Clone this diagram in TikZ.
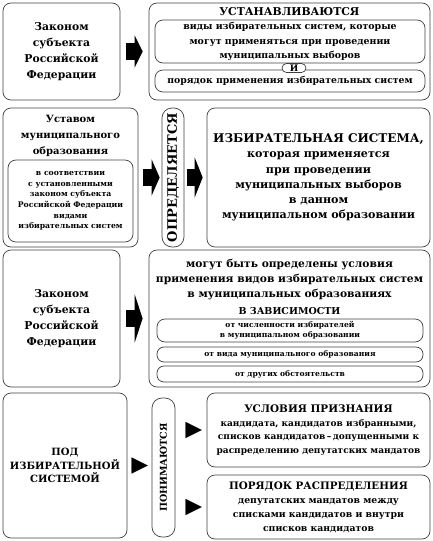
\documentclass[tikz,border=0pt]{standalone}
\usepackage{fontspec}
\setmainfont{DejaVu Serif}
\usetikzlibrary{arrows.meta}

\begin{document}
\begin{tikzpicture}[x=1pt,y=-1pt,
  box/.style={draw=black!75,line width=0.7pt,rounded corners=8pt,inner sep=0pt,align=center},
  pill/.style={draw=black!75,line width=0.7pt,rounded corners=7pt,inner sep=0pt,align=center},
  txt/.style={align=center,inner sep=0pt},
  blockarr/.style={line width=17pt,-{Triangle[length=8pt,width=#1]}},
  tri/.style={line width=0.1pt,-{Triangle[length=16pt,width=16pt]}}]
\useasboundingbox (0,0) rectangle (433,541);
% upper block
\node[box,minimum width=117pt,minimum height=97pt,font=\fontsize{10.8}{16}\selectfont\bfseries] (law1) at (61.5,51.5) {Законом\\субъекта\\Российской\\Федерации};
\node[box,minimum width=281pt,minimum height=97pt] (set1) at (289.5,51.5) {};
\node[txt,font=\fontsize{10.8}{13}\selectfont\bfseries] (set1title) at (289.5,12) {УСТАНАВЛИВАЮТСЯ};
\node[box,minimum width=270pt,minimum height=43pt,font=\fontsize{9.4}{14.5}\selectfont\bfseries] (kinds) at (290,41.5) {виды избирательных систем, которые\\могут применяться при проведении\\муниципальных выборов};
\node[box,minimum width=270pt,minimum height=22pt,font=\fontsize{9.3}{14.5}\selectfont\bfseries] (order) at (290,81) {порядок применения избирательных систем};
\node[pill,fill=white,minimum width=24pt,minimum height=9pt,rounded corners=4.5pt,font=\fontsize{9}{9}\selectfont\bfseries] (and) at (294,68) {И};
\draw[blockarr=32pt,shorten <=6pt,shorten >=6pt] (law1) -- (set1);
% second block
\node[box,minimum width=135pt,minimum height=139pt] (charter) at (70.5,177.5) {};
\node[txt,font=\fontsize{10}{16}\selectfont\bfseries] (chartertitle) at (70.5,136) {Уставом\\муниципального\\образования};
\node[box,minimum width=125pt,minimum height=82pt,font=\fontsize{7.7}{10.6}\selectfont\bfseries] (accord) at (70.5,201) {в соответствии\\с установленными\\законом субъекта\\Российской Федерации\\видами\\избирательных систем};
\node[pill,minimum width=22pt,minimum height=139pt,rounded corners=10pt,font=\fontsize{13}{13}\selectfont\bfseries] (defined) at (173,177.5) {\rotatebox{90}{ОПРЕДЕЛЯЕТСЯ}};
\node[box,minimum width=223pt,minimum height=139pt,font=\fontsize{11.1}{15.3}\selectfont\bfseries] (system) at (318.5,177.5) {{\fontsize{12}{15.3}\selectfont ИЗБИРАТЕЛЬНАЯ СИСТЕМА,}\\которая применяется\\при проведении\\муниципальных выборов\\в данном\\муниципальном образовании};
\draw[blockarr=36pt,shorten <=5pt,shorten >=2pt] (charter) -- (defined);
\draw[blockarr=40pt,shorten <=3pt,shorten >=4pt] (defined) -- (system);
% third block
\node[box,minimum width=117pt,minimum height=137pt,font=\fontsize{10.8}{16}\selectfont\bfseries] (law2) at (61.5,318.5) {Законом\\субъекта\\Российской\\Федерации};
\node[box,minimum width=281pt,minimum height=137pt] (apply) at (289.5,318.5) {};
\node[txt,font=\fontsize{10.7}{15}\selectfont\bfseries] (applytext) at (289.5,280) {могут быть определены условия\\применения видов избирательных систем\\в муниципальных образованиях};
\node[txt,font=\fontsize{9.5}{13}\selectfont\bfseries] (depend) at (289.5,311) {В ЗАВИСИМОСТИ};
\node[pill,minimum width=266pt,minimum height=23pt,rounded corners=8pt,font=\fontsize{7.6}{10}\selectfont\bfseries] (dep1) at (290,330.5) {от численности избирателей\\в муниципальном образовании};
\node[pill,minimum width=266pt,minimum height=15pt,font=\fontsize{7.6}{10}\selectfont\bfseries] (dep2) at (290,354.5) {от вида муниципального образования};
\node[pill,minimum width=266pt,minimum height=16pt,font=\fontsize{7.6}{10}\selectfont\bfseries] (dep3) at (290,374) {от других обстоятельств};
\draw[blockarr=48pt,shorten <=6pt,shorten >=6pt] (law2) -- (apply);
% lower block
\node[box,minimum width=124pt,minimum height=145pt,font=\fontsize{10}{13.5}\selectfont\bfseries] (under) at (65,465.5) {ПОД\\ИЗБИРАТЕЛЬНОЙ\\СИСТЕМОЙ};
\node[pill,minimum width=23pt,minimum height=139pt,rounded corners=10pt,font=\fontsize{9.5}{9.5}\selectfont\bfseries] (meant) at (163.5,467.5) {\rotatebox{90}{ПОНИМАЮТСЯ}};
\node[box,minimum width=223pt,minimum height=74pt,font=\fontsize{9}{13.5}\selectfont\bfseries] (recog) at (318.5,430) {{\fontsize{10.4}{14}\selectfont УСЛОВИЯ ПРИЗНАНИЯ}\\кандидата, кандидатов избранными,\\списков кандидатов\,–\,допущенными к\\распределению депутатских мандатов};
\node[box,minimum width=223pt,minimum height=64pt,font=\fontsize{9.3}{14}\selectfont\bfseries] (distrib) at (318.5,507) {{\fontsize{10.3}{14}\selectfont ПОРЯДОК РАСПРЕДЕЛЕНИЯ}\\депутатских мандатов между\\списками кандидатов и внутри\\списков кандидатов};
\draw[tri,shorten <=5pt,shorten >=4pt] (under.east) -- (under.east -| meant.west);
\draw[tri,shorten <=11pt,shorten >=5pt] (meant.east |- recog.west) -- (recog.west);
\draw[tri,shorten <=11pt,shorten >=5pt] (meant.east |- distrib.west) -- (distrib.west);
\end{tikzpicture}
\end{document}
